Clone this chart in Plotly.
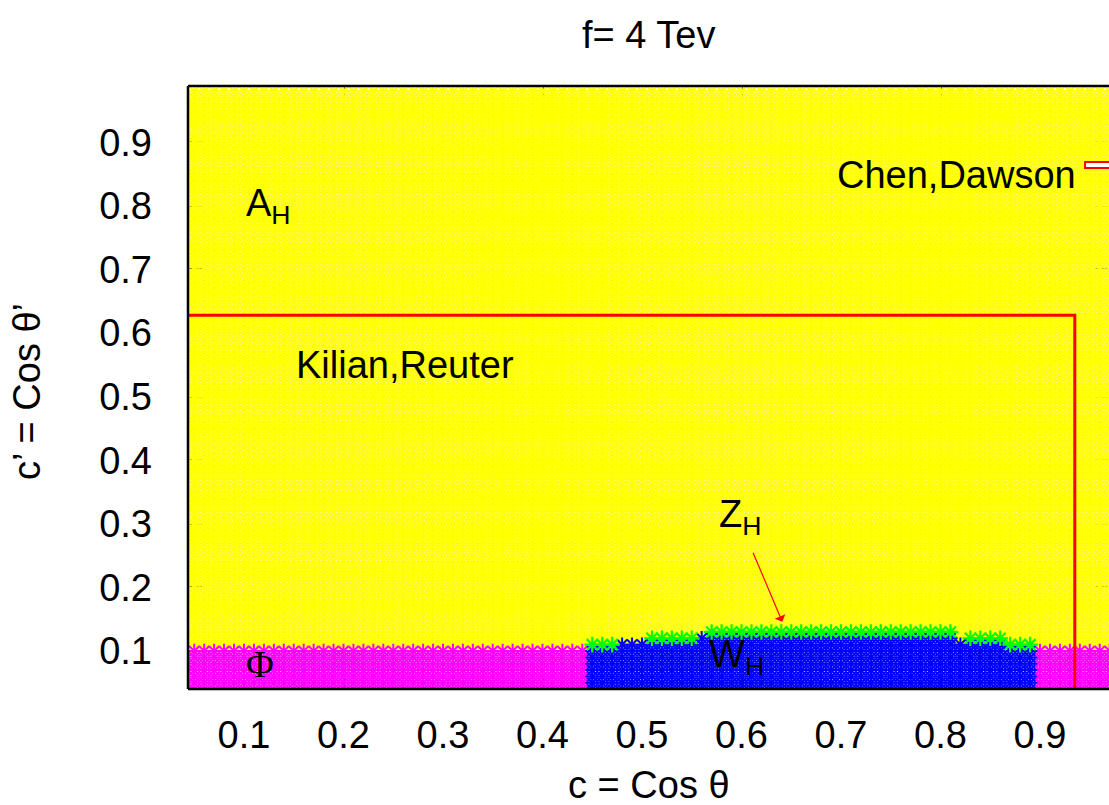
import numpy as np
import plotly.graph_objects as go

# Scan grid in (c, c') = (cos theta, cos theta')
c_grid = np.round(np.arange(0.05, 0.975, 0.01), 2)
cp_grid = np.round(np.arange(0.04, 0.985, 0.01), 2)

# Lightest heavy particle over the scan
phi_top = 0.10  # Phi is lightest for c' <= this value (outside the W_H window)
# W_H region: (c from, c to, highest c')
wh_segments = [
    (0.45, 0.47, 0.10),
    (0.48, 0.50, 0.11),
    (0.51, 0.55, 0.11),
    (0.56, 0.56, 0.12),
    (0.57, 0.81, 0.12),
    (0.82, 0.82, 0.11),
    (0.83, 0.86, 0.11),
    (0.87, 0.89, 0.10),
]
# Z_H strip on top of W_H: (c from, c to, c')
zh_segments = [
    (0.45, 0.47, 0.11),
    (0.51, 0.55, 0.12),
    (0.57, 0.81, 0.13),
    (0.83, 0.86, 0.12),
    (0.87, 0.89, 0.11),
]

# Kilian,Reuter bound
kr_c = 0.935
kr_cp = 0.628

# Arrow pointing at the Z_H strip
zh_arrow_tail = (0.611, 0.257)
zh_arrow_head = (0.641, 0.146)

x_ticks = [0.1, 0.2, 0.3, 0.4, 0.5, 0.6, 0.7, 0.8, 0.9]
y_ticks = [0.1, 0.2, 0.3, 0.4, 0.5, 0.6, 0.7, 0.8, 0.9]

colors = {"A": "#ffff00", "Phi": "#ff00ff", "W": "#0000ff", "Z": "#00ff00"}
EPS = 1e-9


def lookup(segments, c):
    for lo, hi, v in segments:
        if lo - EPS <= c <= hi + EPS:
            return v
    return None


pts = {k: ([], []) for k in ["A", "Phi", "W", "Z"]}
for c in c_grid:
    w = lookup(wh_segments, c)
    z = lookup(zh_segments, c)
    for cp in cp_grid:
        if w is None:
            cls = "Phi" if cp <= phi_top + EPS else "A"
        elif cp <= w + EPS:
            cls = "W"
        elif z is not None and abs(cp - z) < 1e-6:
            cls = "Z"
        else:
            cls = "A"
        pts[cls][0].append(c)
        pts[cls][1].append(cp)

FONT = "Liberation Sans, Arial, sans-serif"
FS = 38
fig = go.Figure()
for k in ["A", "Phi", "W", "Z"]:
    size, lw = (13, 2.2) if k == "Z" else (12, 2)
    fig.add_trace(go.Scatter(
        x=pts[k][0], y=pts[k][1], mode="markers",
        marker=dict(symbol="asterisk-open", size=size, color=colors[k],
                    line=dict(width=lw, color=colors[k])),
        showlegend=False, hoverinfo="skip",
    ))

fig.add_trace(go.Scatter(
    x=[0.0, kr_c, kr_c], y=[kr_cp, kr_cp, 0.0], mode="lines",
    line=dict(color="#ff0000", width=3), showlegend=False, hoverinfo="skip",
))

txt = dict(size=FS, color="black", family=FONT)
annotations = [
    dict(x=0.1, y=0.8, text="A<sub>H</sub>", xanchor="left", yanchor="middle"),
    dict(x=0.1, y=0.08, text="\u03a6", xanchor="left", yanchor="middle",
         font=dict(size=FS, color="black", family="Liberation Serif, serif")),
    dict(x=0.15, y=0.55, text="Kilian,Reuter", xanchor="left", yanchor="middle"),
    dict(x=0.575, y=0.31, text="Z<sub>H</sub>", xanchor="left", yanchor="middle"),
    dict(x=0.565, y=0.09, text="W<sub>H</sub>", xanchor="left", yanchor="middle"),
]
for a in annotations:
    a.setdefault("font", txt)
    a.update(xref="x", yref="y", showarrow=False)

annotations.append(dict(
    x=zh_arrow_head[0], y=zh_arrow_head[1], ax=zh_arrow_tail[0], ay=zh_arrow_tail[1],
    xref="x", yref="y", axref="x", ayref="y", text="", showarrow=True,
    arrowhead=1, arrowsize=1.6, arrowwidth=1.2, arrowcolor="#ff0000",
))
# key entry
annotations.append(dict(
    x=0.9663, y=0.852, xref="paper", yref="paper", text="Chen,Dawson",
    xanchor="right", yanchor="middle", showarrow=False, font=txt,
))
annotations.append(dict(
    x=0.5, y=1.0846, xref="paper", yref="paper", text="f= 4 Tev",
    xanchor="center", yanchor="middle", showarrow=False, font=txt,
))
annotations.append(dict(
    x=0.5, y=-0.159, xref="paper", yref="paper", text="c = Cos \u03b8",
    xanchor="center", yanchor="middle", showarrow=False, font=txt,
))
annotations.append(dict(
    x=-0.1748, y=0.4925, xref="paper", yref="paper", text="c\u2019 = Cos \u03b8\u2019",
    xanchor="center", yanchor="middle", showarrow=False, font=txt, textangle=-90,
))

shapes = [
    dict(type="line", xref="paper", yref="paper", x0=0, x1=0, y0=0, y1=1,
         line=dict(color="black", width=2.5), layer="above"),
    dict(type="line", xref="paper", yref="paper", x0=0, x1=1, y0=1, y1=1,
         line=dict(color="black", width=2.5), layer="above"),
    dict(type="line", xref="paper", yref="paper", x0=0, x1=1, y0=0, y1=0,
         line=dict(color="black", width=2.5), layer="above"),
    dict(type="rect", xref="paper", yref="paper", x0=0.974, x1=1.02, y0=0.864, y1=0.874,
         line=dict(color="#ff0000", width=2), fillcolor="white", layer="above"),
]

axis_common = dict(
    showgrid=False, zeroline=False, showline=False,
    ticks="inside", ticklen=14, tickwidth=1.5, tickcolor="black",
    mirror="ticks", layer="below traces",
    tickfont=dict(size=FS, color="black", family=FONT),
)
fig.update_layout(
    width=1109, height=805,
    margin=dict(l=188, r=0, t=86, b=116),
    paper_bgcolor="white", plot_bgcolor="white",
    xaxis=dict(range=[0.04372, 0.96935], tickvals=x_ticks,
               ticktext=[f"{v:.1f}" for v in x_ticks], ticklabelstandoff=20, **axis_common),
    yaxis=dict(range=[0.0403, 0.9884], tickvals=y_ticks,
               ticktext=[f"{v:.1f}" for v in y_ticks], ticklabelstandoff=35, **axis_common),
    annotations=annotations, shapes=shapes,
)

fig.write_html("out.html")
